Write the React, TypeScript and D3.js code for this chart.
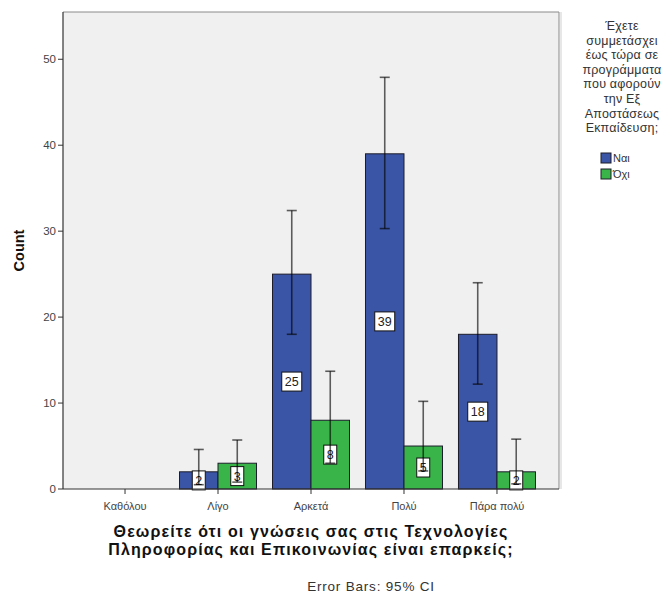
import React from "react";
import * as d3 from "d3";

const categories = ["Καθόλου", "Λίγο", "Αρκετά", "Πολύ", "Πάρα πολύ"];
const groups = ["Ναι", "Όχι"];
const yesCounts = [0, 2, 25, 39, 18];
const noCounts = [0, 3, 8, 5, 2];
// 95% CI bounds
const yesLow = [null, 0.5, 18.0, 30.3, 12.2];
const yesHigh = [null, 4.6, 32.4, 47.9, 24.0];
const noLow = [null, 0.8, 3.0, 2.1, 0.6];
const noHigh = [null, 5.7, 13.7, 10.2, 5.8];
const yTicks = [0, 10, 20, 30, 40, 50];
const legendTitle = [
  "Έχετε",
  "συμμετάσχει",
  "έως τώρα σε",
  "προγράμματα",
  "που αφορούν",
  "την Εξ",
  "Αποστάσεως",
  "Εκπαίδευση;",
];
const xTitle = [
  "Θεωρείτε ότι οι γνώσεις σας στις Τεχνολογίες",
  "Πληροφορίας και Επικοινωνίας είναι επαρκείς;",
];

const colors = ["#3b55a6", "#38b449"];
const font = "'Liberation Sans', Arial, sans-serif";

export default function App() {
  const W = 663;
  const H = 596;
  const left = 63;
  const right = 559;
  const top = 12;
  const bottom = 489;

  const x = d3
    .scalePoint<string>()
    .domain(categories)
    .range([left, right])
    .padding(0.667);
  const y = d3.scaleLinear().domain([0, 55.5]).range([bottom, top]);
  const barW = 38.5;

  const series = [
    { counts: yesCounts, low: yesLow, high: yesHigh },
    { counts: noCounts, low: noLow, high: noHigh },
  ];

  return (
    <svg
      width={W}
      height={H}
      style={{ position: "absolute", left: 0, top: 0, background: "#fff" }}
    >
      <rect x={left} y={top} width={right - left} height={bottom - top} fill="#f0f0f0" />
      <line x1={left} x2={right} y1={top} y2={top} stroke="#8a8a8a" />
      <line x1={right} x2={right} y1={top} y2={bottom} stroke="#8a8a8a" />
      <line x1={right + 2} x2={right + 2} y1={top} y2={bottom} stroke="#cfcfcf" />

      {/* bars */}
      {series.map((s, gi) =>
        categories.map((c, i) => {
          const v = s.counts[i];
          if (!v) return null;
          const bx = (x(c) as number) - barW + gi * barW;
          return (
            <rect
              key={`b${gi}-${i}`}
              x={bx}
              y={y(v)}
              width={barW}
              height={y(0) - y(v)}
              fill={colors[gi]}
              stroke="#1c1c2a"
              strokeWidth={1}
            />
          );
        })
      )}

      {/* value labels */}
      {series.map((s, gi) =>
        categories.map((c, i) => {
          const v = s.counts[i];
          if (!v) return null;
          const cx = (x(c) as number) - barW / 2 + gi * barW;
          const cy = y(v / 2);
          const bw = String(v).length > 1 ? 20 : 13;
          return (
            <g key={`l${gi}-${i}`}>
              <rect
                x={cx - bw / 2}
                y={cy - 9.5}
                width={bw}
                height={19}
                fill="#fff"
                stroke="#111"
                strokeWidth={1}
              />
              <text
                x={cx}
                y={cy + 4.5}
                textAnchor="middle"
                fontFamily={font}
                fontSize={12.5}
                fill="#222"
              >
                {v}
              </text>
            </g>
          );
        })
      )}

      {/* error bars */}
      {series.map((s, gi) =>
        categories.map((c, i) => {
          const lo = s.low[i];
          const hi = s.high[i];
          if (lo == null || hi == null) return null;
          const cx = (x(c) as number) - barW / 2 + gi * barW;
          return (
            <g key={`e${gi}-${i}`} stroke="#000" strokeOpacity={0.62} strokeWidth={1.6}>
              <line x1={cx} x2={cx} y1={y(hi)} y2={y(lo)} />
              <line x1={cx - 5} x2={cx + 5} y1={y(hi)} y2={y(hi)} />
              <line x1={cx - 5} x2={cx + 5} y1={y(lo)} y2={y(lo)} />
            </g>
          );
        })
      )}

      {/* axes */}
      <line x1={left} x2={left} y1={top} y2={bottom} stroke="#333" strokeWidth={1.2} />
      <line x1={left} x2={right} y1={bottom} y2={bottom} stroke="#333" strokeWidth={1.2} />
      {yTicks.map((t) => (
        <g key={`yt${t}`}>
          <line x1={left - 5} x2={left} y1={y(t)} y2={y(t)} stroke="#333" />
          <text
            x={left - 7}
            y={y(t) + 4}
            textAnchor="end"
            fontFamily={font}
            fontSize={11.5}
            fill="#444"
          >
            {t}
          </text>
        </g>
      ))}
      {categories.map((c) => (
        <g key={`xt${c}`}>
          <line
            x1={x(c) as number}
            x2={x(c) as number}
            y1={bottom}
            y2={bottom + 5}
            stroke="#333"
          />
          <text
            x={x(c) as number}
            y={bottom + 21}
            textAnchor="middle"
            fontFamily={font}
            fontSize={11}
            fill="#444"
          >
            {c}
          </text>
        </g>
      ))}

      <text
        transform={`translate(24, ${(top + bottom) / 2}) rotate(-90)`}
        textAnchor="middle"
        fontFamily={font}
        fontSize={14.5}
        fontWeight="bold"
        fill="#111"
      >
        Count
      </text>

      {xTitle.map((line, i) => (
        <text
          key={`xt-${i}`}
          x={(left + right) / 2}
          y={537 + i * 18}
          textAnchor="middle"
          fontFamily={font}
          fontSize={16}
          fontWeight="bold"
          letterSpacing={1.1}
          fill="#111"
        >
          {line}
        </text>
      ))}

      <text
        x={371}
        y={591}
        textAnchor="middle"
        fontFamily={font}
        fontSize={13.5}
        letterSpacing={0.8}
        fill="#333"
      >
        Error Bars: 95% CI
      </text>

      {/* legend */}
      {legendTitle.map((line, i) => (
        <text
          key={`lt${i}`}
          x={622}
          y={30 + i * 14.6}
          textAnchor="middle"
          fontFamily={font}
          fontSize={12.5}
          letterSpacing={0.2}
          fill="#333"
        >
          {line}
        </text>
      ))}
      {groups.map((g, i) => (
        <g key={`lg${g}`}>
          <rect
            x={601}
            y={153 + i * 16}
            width={10}
            height={10}
            fill={colors[i]}
            stroke="#1c1c2a"
          />
          <text
            x={613}
            y={162 + i * 16}
            fontFamily={font}
            fontSize={11}
            fill="#333"
          >
            {g}
          </text>
        </g>
      ))}
    </svg>
  );
}
